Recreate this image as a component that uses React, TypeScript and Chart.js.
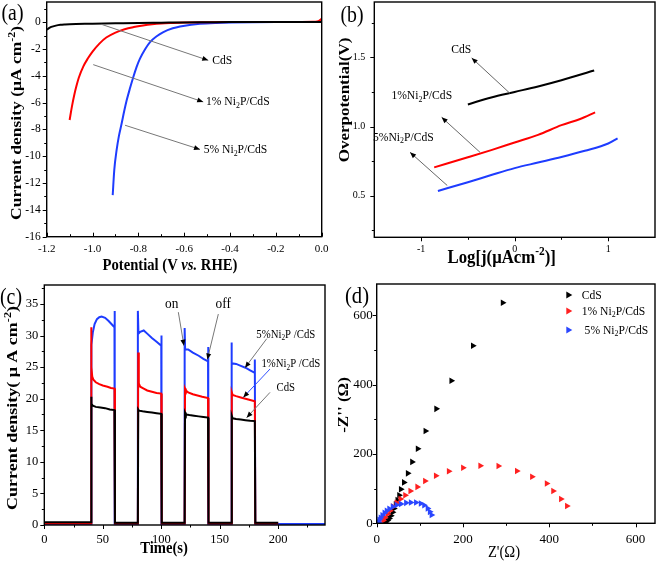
import React, { useEffect, useRef } from 'react';
import { Chart, registerables } from 'chart.js';
Chart.register(...registerables);

const FONT = "'Liberation Serif','Times New Roman',serif";
const SX = 0.86;

// ---------- (a) LSV ----------
const potCdS = [-1.2, -1.19, -1.18, -1.16, -1.14, -1.12, -1.1, -1.0, -0.9, -0.8, -0.7, -0.6, -0.5, -0.4, -0.3, -0.2, -0.1, 0];
const curCdS = [-0.57, -0.45, -0.36, -0.26, -0.2, -0.17, -0.15, -0.12, -0.09, -0.06, -0.04, -0.02, -0.01, 0, 0, 0, 0, 0];
const pot1 = [-1.1, -1.09, -1.08, -1.07, -1.06, -1.04, -1.02, -1.0, -0.97, -0.94, -0.9, -0.86, -0.82, -0.78, -0.74, -0.7, -0.65, -0.6, -0.5, -0.4, -0.3, -0.2, -0.1, -0.04, -0.02, -0.01, 0];
const cur1 = [-7.3, -6.3, -5.45, -4.75, -4.15, -3.3, -2.7, -2.2, -1.6, -1.15, -0.78, -0.53, -0.37, -0.25, -0.16, -0.1, -0.06, -0.03, -0.01, 0, 0, 0, 0.01, 0.02, 0.05, 0.12, 0.25];
const pot5 = [-0.912, -0.905, -0.895, -0.885, -0.873, -0.862, -0.851, -0.836, -0.822, -0.808, -0.793, -0.77, -0.749, -0.72, -0.691, -0.65, -0.618, -0.57, -0.531, -0.46, -0.39, -0.3, -0.2, -0.1, 0];
const cur5 = [-12.9, -11.0, -9.55, -8.5, -7.56, -6.65, -5.83, -4.9, -4.09, -3.35, -2.72, -2.0, -1.49, -1.05, -0.74, -0.46, -0.32, -0.19, -0.12, -0.06, -0.03, -0.01, 0, 0, 0];
const potTicks = [-1.2, -1.0, -0.8, -0.6, -0.4, -0.2, 0];
const potMinor = [-1.1, -0.9, -0.7, -0.5, -0.3, -0.1];
const curTicks = [-16, -14, -12, -10, -8, -6, -4, -2, 0];
const curMinor = [-15, -13, -11, -9, -7, -5, -3, -1, 1];

// ---------- (b) Tafel ----------
const logjCdS = [-0.5, -0.25, 0, 0.25, 0.5, 0.85];
const etaCdS = [1.16, 1.21, 1.25, 1.29, 1.335, 1.405];
const logj1 = [-0.86, -0.5, -0.25, 0, 0.25, 0.5, 0.7, 0.86];
const eta1 = [0.705, 0.778, 0.83, 0.885, 0.94, 1.01, 1.055, 1.103];
const logj5 = [-0.82, -0.5, -0.25, 0, 0.25, 0.5, 0.75, 1.0, 1.1];
const eta5 = [0.535, 0.598, 0.65, 0.7, 0.74, 0.78, 0.825, 0.878, 0.915];
const logjTicks = [-1, 0, 1];
const logjMinor = [-0.5, 0.5];
const etaTicks = [0.5, 1.0, 1.5];
const etaMinor = [0.25, 0.75, 1.25, 1.75];

// ---------- (c) photocurrent ----------
const t5 = [0, 40, 40, 40.5, 41.5, 43, 45, 47, 49, 52, 55, 58, 60, 60, 60.4, 80, 80, 80.5, 82, 85, 88, 92, 96, 100, 100, 100.4, 120, 120, 120.4, 123, 127, 132, 136, 140, 140, 140.4, 160, 160, 160.4, 164, 168, 172, 176, 180, 180, 180.4, 240];
const j5 = [0.15, 0.15, 26, 28.5, 30.5, 31.8, 32.6, 32.9, 33, 32.8, 32.3, 31.7, 31.3, 33.9, 0.15, 0.15, 33.9, 30.3, 30.6, 30.8, 30.3, 29.6, 29, 28.4, 30, 0.15, 0.15, 31.2, 27.8, 27.8, 27.3, 26.8, 26.3, 25.9, 28.2, 0.15, 0.15, 28.9, 25.6, 25.5, 25.2, 24.9, 24.5, 24.1, 26.2, 0.15, 0.15];
const t1 = [0, 40, 40, 40.4, 41, 42, 44, 47, 50, 54, 57, 60, 60.4, 80, 80.3, 80.8, 82, 85, 88, 92, 96, 100, 100.4, 120, 120.3, 121, 123, 127, 131, 135, 140, 140.4, 160, 160.3, 161, 164, 168, 172, 176, 180, 180.4, 200];
const j1 = [0.25, 0.25, 31.3, 25, 23.5, 23, 22.6, 22.3, 22.1, 21.9, 21.7, 21.6, 0.25, 0.25, 27.3, 22.4, 21.9, 21.6, 21.3, 21.1, 20.9, 20.8, 0.25, 0.25, 21.6, 21.3, 21, 20.7, 20.5, 20.3, 20.1, 0.25, 0.25, 21.0, 20.6, 20.4, 20.2, 20, 19.8, 19.6, 0.25, 0.25];
const tC = [0, 40, 40, 40.5, 41.5, 44, 48, 52, 56, 60, 60.4, 80, 80.3, 81, 84, 88, 92, 96, 100, 100.4, 120, 120.3, 121, 124, 128, 132, 136, 140, 140.4, 160, 160.3, 161, 164, 168, 172, 176, 180, 180.4, 200];
const jC = [0.45, 0.45, 20.3, 19.2, 18.9, 18.7, 18.6, 18.5, 18.3, 18.2, 0.35, 0.35, 18.3, 18.1, 18, 17.9, 17.8, 17.7, 17.6, 0.35, 0.35, 17.8, 17.5, 17.4, 17.3, 17.2, 17.1, 17, 0.35, 0.35, 17.3, 16.9, 16.8, 16.7, 16.6, 16.5, 16.45, 0.35, 0.35];
const timeTicks = [0, 50, 100, 150, 200];
const timeMinor = [25, 75, 125, 175, 225];
const jTicks = [0, 5, 10, 15, 20, 25, 30, 35];
const jMinor = [2.5, 7.5, 12.5, 17.5, 22.5, 27.5, 32.5, 37.5];

// ---------- (d) Nyquist ----------
const zReCdS = [292, 223, 173, 138, 113, 95, 82, 72, 63, 56, 52, 48, 44, 40, 37, 33, 29, 25, 21, 17];
const zImCdS = [636, 512, 411, 330, 266, 215, 177, 144, 118, 98, 81, 67, 55, 43, 32, 22, 14, 8, 4, 1];
const zRe1 = [441, 427, 409, 394, 360, 325, 282, 240, 200, 167, 137, 112, 94, 78, 66, 55, 46, 38, 31, 25, 19, 15];
const zIm1 = [50, 70, 93, 115, 134, 151, 165, 166, 160, 150, 137, 122, 105, 93, 81, 70, 59, 48, 36, 26, 16, 8];
const zRe5 = [127, 123, 118, 110, 102, 91, 79, 68, 56, 46, 37, 29, 23, 18, 13, 9, 6, 5];
const zIm5 = [24, 33, 43, 52, 57, 60, 60, 59, 56, 53, 48, 42, 36, 30, 23, 16, 10, 3];
const zTicks = [0, 200, 400, 600];
const zMinor = [100, 300, 500];

const BLUE = '#1e3cff';
const RED = '#ff0000';
const BLACK = '#000000';

const zip = (xs: number[], ys: number[]) => xs.map((x, i) => ({ x, y: ys[i] }));

type Txt = { s: string; x: number; y: number; size: number; bold?: boolean; rot?: number; align?: 'left' | 'center' | 'right'; px?: boolean; color?: string };

function parseRich(s: string) {
  const segs: { s: string; mode: string }[] = [];
  const re = /([_^~])\{([^}]*)\}/g;
  let last = 0;
  let m: RegExpExecArray | null;
  while ((m = re.exec(s))) {
    if (m.index > last) segs.push({ s: s.slice(last, m.index), mode: 'n' });
    segs.push({ s: m[2], mode: m[1] === '_' ? 'sub' : m[1] === '^' ? 'sup' : 'it' });
    last = re.lastIndex;
  }
  if (last < s.length) segs.push({ s: s.slice(last), mode: 'n' });
  return segs;
}

function drawRich(ctx: CanvasRenderingContext2D, t: Txt, x: number, y: number) {
  const segs = parseRich(t.s);
  const fontFor = (mode: string) => {
    const sz = mode === 'sub' || mode === 'sup' ? t.size * 0.68 : t.size;
    return `${mode === 'it' ? 'italic ' : ''}${t.bold ? 'bold ' : ''}${sz}px ${FONT}`;
  };
  let W = 0;
  const ws = segs.map((g) => {
    ctx.font = fontFor(g.mode);
    const w = ctx.measureText(g.s).width;
    W += w;
    return w;
  });
  let cx = t.align === 'left' ? 0 : t.align === 'right' ? -W : -W / 2;
  ctx.save();
  ctx.translate(x, y);
  ctx.scale(SX, 1);
  if (t.rot) ctx.rotate((t.rot * Math.PI) / 180);
  ctx.fillStyle = t.color || '#000';
  ctx.textBaseline = 'middle';
  ctx.textAlign = 'left';
  segs.forEach((g, i) => {
    ctx.font = fontFor(g.mode);
    const dy = g.mode === 'sub' ? t.size * 0.28 : g.mode === 'sup' ? -t.size * 0.32 : 0;
    ctx.fillText(g.s, cx, dy);
    cx += ws[i];
  });
  ctx.restore();
}

const decor = {
  id: 'decor',
  afterDraw(chart: any, _args: any, o: any) {
    const { ctx, chartArea: a, scales } = chart;
    const xs = scales.x;
    const ys = scales.y;
    ctx.save();
    ctx.strokeStyle = '#000';
    ctx.lineWidth = 1;
    const xdir = o.inX ? -1 : 1;
    const xt = (v: number, len: number) => {
      const p = Math.round(xs.getPixelForValue(v)) + 0.5;
      ctx.beginPath();
      ctx.moveTo(p, a.bottom);
      ctx.lineTo(p, a.bottom + xdir * len);
      ctx.stroke();
    };
    const yt = (v: number, len: number) => {
      const p = Math.round(ys.getPixelForValue(v)) + 0.5;
      ctx.beginPath();
      ctx.moveTo(a.left, p);
      ctx.lineTo(a.left - len, p);
      ctx.stroke();
    };
    xs.ticks.forEach((t: any) => xt(t.value, 4));
    (o.minorX || []).forEach((v: number) => xt(v, 2.5));
    ys.ticks.forEach((t: any) => yt(t.value, 4));
    (o.minorY || []).forEach((v: number) => yt(v, 2.5));
    ctx.lineWidth = 1.4;
    ctx.strokeRect(a.left, a.top, a.right - a.left, a.bottom - a.top);

    (o.arrows || []).forEach((ar: any) => {
      const x1 = xs.getPixelForValue(ar.x1);
      const y1 = ys.getPixelForValue(ar.y1);
      const x2 = xs.getPixelForValue(ar.x2);
      const y2 = ys.getPixelForValue(ar.y2);
      ctx.strokeStyle = ar.color || '#777';
      ctx.lineWidth = 1;
      ctx.beginPath();
      ctx.moveTo(x1, y1);
      ctx.lineTo(x2, y2);
      ctx.stroke();
      const ang = Math.atan2(y2 - y1, x2 - x1);
      const L = 6;
      const H = 2.5;
      ctx.fillStyle = '#000';
      ctx.beginPath();
      ctx.moveTo(x2, y2);
      ctx.lineTo(x2 - L * Math.cos(ang) + H * Math.sin(ang), y2 - L * Math.sin(ang) - H * Math.cos(ang));
      ctx.lineTo(x2 - L * Math.cos(ang) - H * Math.sin(ang), y2 - L * Math.sin(ang) + H * Math.cos(ang));
      ctx.closePath();
      ctx.fill();
    });

    (o.legend || []).forEach((it: any) => {
      const r = 4;
      ctx.fillStyle = it.color;
      ctx.beginPath();
      ctx.moveTo(it.x + r, it.y);
      ctx.lineTo(it.x - r * 0.5, it.y - r * 0.87);
      ctx.lineTo(it.x - r * 0.5, it.y + r * 0.87);
      ctx.closePath();
      ctx.fill();
      drawRich(ctx, { s: it.label, x: 0, y: 0, size: 13.5, align: 'left' }, it.tx, it.y);
    });

    (o.texts || []).forEach((t: Txt) => {
      const x = t.px ? t.x : xs.getPixelForValue(t.x);
      const y = t.px ? t.y : ys.getPixelForValue(t.y);
      drawRich(ctx, t, x, y);
    });
    ctx.restore();
  },
};

type AxisSpec = { min: number; max: number; major: number[]; fmt: (v: number) => string; size: number; pad: number; w?: number; h?: number };

function axis(s: AxisSpec) {
  return {
    type: 'linear',
    min: s.min,
    max: s.max,
    grid: { display: false, drawTicks: false },
    border: { display: false },
    ticks: {
      color: '#000',
      font: { family: FONT, size: s.size },
      padding: s.pad,
      maxRotation: 0,
      autoSkip: false,
      callback: (v: number) => s.fmt(v),
    },
    afterBuildTicks: (sc: any) => {
      sc.ticks = s.major.map((v) => ({ value: v }));
    },
    afterFit: (sc: any) => {
      if (s.h != null) sc.height = s.h;
      if (s.w != null) sc.width = s.w;
      sc.paddingTop = 0;
      sc.paddingBottom = 0;
      sc.paddingLeft = 0;
      sc.paddingRight = 0;
    },
  };
}

function makeConfig(datasets: any[], x: AxisSpec, y: AxisSpec, padding: any, deco: any) {
  return {
    type: 'scatter',
    data: { datasets },
    options: {
      responsive: false,
      animation: false,
      devicePixelRatio: 1,
      layout: { padding },
      plugins: { legend: { display: false }, tooltip: { enabled: false }, decor: deco },
      scales: { x: axis(x), y: axis(y) },
    },
    plugins: [decor],
  };
}

const line = (xs: number[], ys: number[], color: string, mono = true) => ({
  data: zip(xs, ys),
  showLine: true,
  borderColor: color,
  backgroundColor: color,
  borderWidth: 2,
  pointRadius: 0,
  cubicInterpolationMode: mono ? 'monotone' : 'default',
  tension: 0,
});

const marks = (xs: number[], ys: number[], color: string, order: number) => ({
  data: zip(xs, ys),
  showLine: false,
  pointStyle: 'triangle',
  rotation: 90,
  pointRadius: 3.8,
  backgroundColor: color,
  borderColor: color,
  borderWidth: 0,
  order,
});

const cfgA = () =>
  makeConfig(
    [line(potCdS, curCdS, BLACK), line(pot1, cur1, RED), line(pot5, cur5, BLUE)],
    { min: -1.2, max: 0, major: potTicks, fmt: (v) => v.toFixed(1), size: 11, pad: 6, h: 43.3 },
    { min: -16, max: 1.5, major: curTicks, fmt: (v) => String(v), size: 11.5, pad: 6, w: 46.7 },
    { left: 0, top: 2, right: 8.3, bottom: 0 },
    {
      inX: true,
      minorX: potMinor,
      minorY: curMinor,
      arrows: [
        { x1: -0.96, y1: -0.17, x2: -0.495, y2: -2.85 },
        { x1: -0.997, y1: -3.17, x2: -0.517, y2: -5.95 },
        { x1: -0.858, y1: -7.69, x2: -0.531, y2: -9.49 },
      ],
      texts: [
        { s: '(a)', x: 12.5, y: 14, size: 23, px: true },
        { s: 'Current density (μA cm^{-2})', x: 17, y: 123, size: 17.5, bold: true, rot: -90, px: true },
        { s: 'Potential (V ~{vs.} RHE)', x: 170, y: 266, size: 17, bold: true, px: true },
        { s: 'CdS', x: -0.478, y: -2.85, size: 13.5, align: 'left' },
        { s: '1% Ni_{2}P/CdS', x: -0.505, y: -5.95, size: 13.5, align: 'left' },
        { s: '5% Ni_{2}P/CdS', x: -0.515, y: -9.49, size: 13.5, align: 'left' },
      ],
    }
  );

const cfgB = () =>
  makeConfig(
    [line(logjCdS, etaCdS, BLACK), line(logj1, eta1, RED), line(logj5, eta5, BLUE)],
    { min: -1.5, max: 1.5, major: logjTicks, fmt: (v) => String(v), size: 10, pad: 6, h: 42.7 },
    { min: 0.2, max: 1.9, major: etaTicks, fmt: (v) => v.toFixed(1), size: 10, pad: 9, w: 44.3 },
    { left: 0, top: 2, right: 6, bottom: 0 },
    {
      minorX: logjMinor,
      minorY: etaMinor,
      arrows: [
        { x1: -0.05, y1: 1.24, x2: -0.459, y2: 1.496, color: '#666' },
        { x1: -0.37, y1: 0.814, x2: -0.78, y2: 1.067, color: '#666' },
        { x1: -0.72, y1: 0.574, x2: -1.118, y2: 0.814, color: '#666' },
      ],
      texts: [
        { s: '(b)', x: 22, y: 16, size: 23, px: true },
        { s: 'Overpotential(V)', x: 15, y: 100, size: 17, bold: true, rot: -90, px: true },
        { s: 'Log[j(μAcm^{-2})]', x: 171.7, y: 257.5, size: 19.5, bold: true, px: true },
        { s: 'CdS', x: -0.571, y: 1.555, size: 13.5 },
        { s: '1%Ni_{2}P/CdS', x: -0.993, y: 1.224, size: 13.5 },
        { s: '5%Ni_{2}P/CdS', x: -1.19, y: 0.923, size: 13.5 },
      ],
    }
  );

const cfgC = () =>
  makeConfig(
    [line(tC, jC, BLACK, false), line(t1, j1, RED, false), line(t5, j5, BLUE, false)],
    { min: 0, max: 240, major: timeTicks, fmt: (v) => String(v), size: 12.5, pad: 7, h: 37 },
    { min: 0, max: 38, major: jTicks, fmt: (v) => String(v), size: 12.5, pad: 6, w: 44.3 },
    { left: 0, top: 5, right: 5, bottom: 0 },
    {
      minorX: timeMinor,
      minorY: jMinor,
      arrows: [
        { x1: 114.6, y1: 33.7, x2: 119.4, y2: 28.4 },
        { x1: 148.8, y1: 33.4, x2: 139.4, y2: 26.2 },
        { x1: 190.2, y1: 29.5, x2: 171.6, y2: 24.9 },
        { x1: 193, y1: 24.7, x2: 170.1, y2: 20.2, color: '#3050ff' },
        { x1: 193, y1: 21, x2: 173, y2: 17 },
      ],
      texts: [
        { s: '(c)', x: 11, y: 18, size: 23, px: true },
        { s: 'Current density( μ A cm^{-2})', x: 13, y: 128, size: 18, bold: true, rot: -90, px: true },
        { s: 'Time(s)', x: 164, y: 269, size: 17, bold: true, px: true },
        { s: 'on', x: 108.9, y: 35, size: 15.5 },
        { s: 'off', x: 153, y: 35, size: 15.5 },
        { s: '5%Ni_{2}P /CdS', x: 206.5, y: 30.2, size: 12.5 },
        { s: '1%Ni_{2}P /CdS', x: 210.8, y: 25.5, size: 12.5 },
        { s: 'CdS', x: 206.5, y: 21.7, size: 12.5 },
      ],
    }
  );

const cfgD = () =>
  makeConfig(
    [marks(zReCdS, zImCdS, BLACK, 2), marks(zRe1, zIm1, '#ff2020', 1), marks(zRe5, zIm5, '#2a46ff', 0)],
    { min: 0, max: 645, major: zTicks, fmt: (v) => String(v), size: 13, pad: 8, h: 38.7 },
    { min: 0, max: 690, major: zTicks, fmt: (v) => String(v), size: 13, pad: 4, w: 46.7 },
    { left: 0, top: 2, right: 6, bottom: 0 },
    {
      minorX: zMinor,
      minorY: zMinor,
      legend: [
        { color: BLACK, label: 'CdS', x: 238.3, y: 15, tx: 251.7 },
        { color: '#ff2020', label: '1% Ni_{2}P/CdS', x: 238.3, y: 31, tx: 251.7 },
        { color: '#2a46ff', label: ' 5% Ni_{2}P/CdS', x: 238.3, y: 50, tx: 251.7 },
      ],
      texts: [
        { s: '(d)', x: 27, y: 17, size: 24, px: true },
        { s: "-Z'' (Ω)", x: 14, y: 125, size: 17, bold: true, rot: -90, px: true },
        { s: "Z'(Ω)", x: 174, y: 273, size: 17, px: true },
      ],
    }
  );

function Panel({ left, top, width, height, cfg }: { left: number; top: number; width: number; height: number; cfg: () => any }) {
  const ref = useRef<HTMLCanvasElement>(null);
  useEffect(() => {
    const c = new Chart(ref.current as HTMLCanvasElement, cfg());
    return () => c.destroy();
  }, []);
  return (
    <canvas
      ref={ref}
      width={width}
      height={height}
      style={{ position: 'absolute', left, top, width, height }}
    />
  );
}

export default function App() {
  return (
    <div style={{ position: 'absolute', left: 0, top: 0, width: 661, height: 562, background: '#fff', overflow: 'hidden' }}>
      <Panel left={0} top={0} width={330} height={280} cfg={cfgA} />
      <Panel left={330} top={0} width={331} height={280} cfg={cfgB} />
      <Panel left={0} top={280} width={330} height={282} cfg={cfgC} />
      <Panel left={330} top={280} width={331} height={282} cfg={cfgD} />
    </div>
  );
}
